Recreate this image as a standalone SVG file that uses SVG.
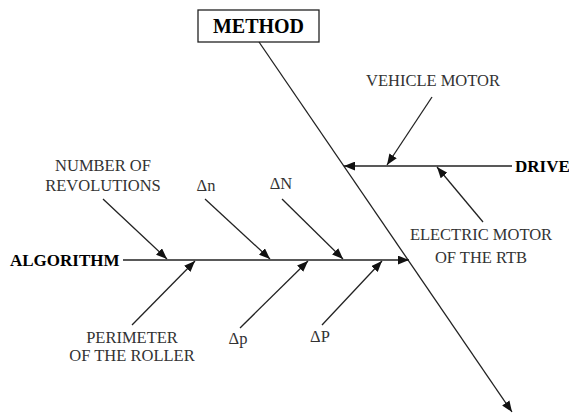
<svg xmlns="http://www.w3.org/2000/svg" width="569" height="415" viewBox="0 0 569 415">
<style>
.ln{stroke:#222;stroke-width:1.3;fill:none}
.lab{font-family:"Liberation Serif","Times New Roman",serif;font-size:16.5px;fill:#333;text-anchor:middle}
.bold{font-family:"Liberation Serif","Times New Roman",serif;font-size:17px;font-weight:bold;fill:#000}
</style>
<defs>
<marker id="ah" viewBox="0 0 10 8" refX="10" refY="4" markerWidth="11" markerHeight="9" markerUnits="userSpaceOnUse" orient="auto">
<path d="M0,0 L10,4 L0,8 Z" fill="#111"/>
</marker>
</defs>
<g id="method">
<rect x="198" y="10" width="121" height="32" fill="#fff" stroke="#222" stroke-width="1.3"/>
<text x="258.5" y="33" class="bold" style="font-size:20px" text-anchor="middle">METHOD</text>
</g>
<g id="drive"><text x="515" y="172" class="bold">DRIVE</text></g>
<g id="algorithm"><text x="10" y="266" class="bold">ALGORITHM</text></g>
<g id="vehicle-motor"><text x="433" y="86" class="lab">VEHICLE MOTOR</text></g>
<g id="electric-motor"><text x="481" y="240" class="lab">ELECTRIC MOTOR</text><text x="481" y="263" class="lab">OF THE RTB</text></g>
<g id="number-rev"><text x="103" y="171" class="lab">NUMBER OF</text><text x="103" y="191" class="lab">REVOLUTIONS</text></g>
<g id="dn"><text x="206" y="191" class="lab">Δn</text></g>
<g id="dN"><text x="281" y="189" class="lab">ΔN</text></g>
<g id="perimeter"><text x="132" y="343" class="lab">PERIMETER</text><text x="132" y="361" class="lab">OF THE ROLLER</text></g>
<g id="dp"><text x="238" y="344" class="lab">Δp</text></g>
<g id="dP"><text x="320" y="342" class="lab">ΔP</text></g>
<g id="connectors">
<line class="ln" x1="259" y1="42" x2="512" y2="412" marker-end="url(#ah)"/>
<line class="ln" x1="512" y1="166" x2="344" y2="166" marker-end="url(#ah)"/>
<line class="ln" x1="432" y1="97" x2="387" y2="165" marker-end="url(#ah)"/>
<line class="ln" x1="483" y1="222" x2="437" y2="167" marker-end="url(#ah)"/>
<line class="ln" x1="123" y1="260" x2="409" y2="260" marker-end="url(#ah)"/>
<line class="ln" x1="103" y1="199" x2="167" y2="259" marker-end="url(#ah)"/>
<line class="ln" x1="205" y1="199" x2="270" y2="259" marker-end="url(#ah)"/>
<line class="ln" x1="282" y1="199" x2="343" y2="259" marker-end="url(#ah)"/>
<line class="ln" x1="132" y1="325" x2="195" y2="261" marker-end="url(#ah)"/>
<line class="ln" x1="240" y1="328" x2="308" y2="261" marker-end="url(#ah)"/>
<line class="ln" x1="322" y1="325" x2="382" y2="261" marker-end="url(#ah)"/>
</g>
</svg>
